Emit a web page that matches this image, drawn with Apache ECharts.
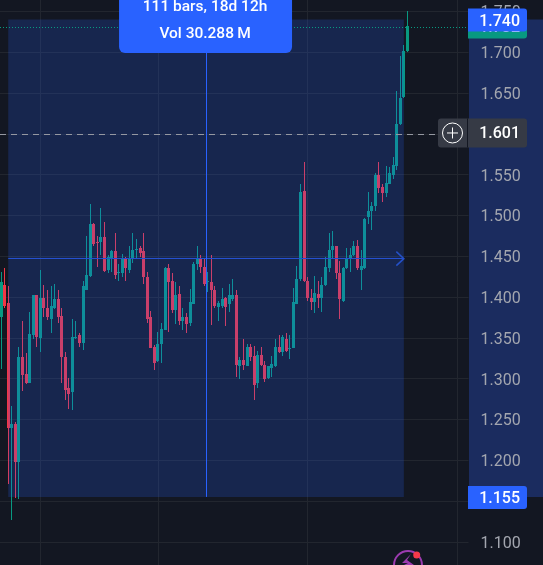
<!DOCTYPE html>
<html>
<head>
<meta charset="utf-8">
<title>Candles with price range</title>
<script src="https://cdn.jsdelivr.net/npm/echarts@6/dist/echarts.min.js"></script>
<style>
  html, body { margin: 0; padding: 0; background: #131722; overflow: hidden; }
  #chart { width: 543px; height: 565px; }
</style>
</head>
<body>
<div id="chart"></div>
<script>
// Candle prices, oldest bar first.
const opens = [
  1.375,1.415,1.393,1.240,1.244,1.198,1.326,1.306,1.295,1.354,
  1.402,1.350,1.399,1.386,1.373,1.386,1.398,1.377,1.327,1.289,
  1.284,1.350,1.353,1.344,1.409,1.426,1.490,1.468,1.467,1.474,
  1.433,1.447,1.456,1.430,1.429,1.448,1.433,1.446,1.458,1.460,
  1.456,1.425,1.375,1.339,1.321,1.343,1.360,1.435,1.419,1.384,
  1.404,1.370,1.376,1.368,1.392,1.440,1.446,1.437,1.418,1.418,
  1.409,1.388,1.389,1.399,1.391,1.398,1.403,1.316,1.323,1.316,
  1.339,1.328,1.294,1.329,1.317,1.301,1.313,1.316,1.339,1.333,
  1.349,1.337,1.338,1.392,1.422,1.530,1.420,1.399,1.394,1.404,
  1.399,1.415,1.435,1.458,1.462,1.430,1.395,1.435,1.447,1.451,
  1.462,1.433,1.435,1.498,1.505,1.511,1.549,1.535,1.527,1.539,
  1.550,1.560,1.612,1.645,1.701
];
const closes = [
  1.418,1.389,1.240,1.244,1.198,1.326,1.305,1.294,1.355,1.402,
  1.351,1.399,1.386,1.375,1.389,1.398,1.375,1.326,1.286,1.281,
  1.351,1.351,1.344,1.413,1.427,1.490,1.465,1.467,1.474,1.432,
  1.449,1.456,1.427,1.431,1.447,1.435,1.447,1.458,1.459,1.454,
  1.425,1.373,1.338,1.319,1.343,1.361,1.436,1.418,1.384,1.403,
  1.370,1.376,1.367,1.394,1.441,1.446,1.437,1.416,1.419,1.408,
  1.389,1.393,1.398,1.388,1.402,1.403,1.317,1.323,1.317,1.339,
  1.326,1.292,1.329,1.317,1.300,1.315,1.318,1.339,1.333,1.351,
  1.334,1.338,1.394,1.422,1.529,1.419,1.399,1.394,1.405,1.399,
  1.415,1.437,1.458,1.462,1.430,1.397,1.436,1.446,1.452,1.463,
  1.435,1.438,1.496,1.505,1.511,1.549,1.534,1.527,1.540,1.552,
  1.562,1.612,1.644,1.701,1.732
];
const lows = [
  1.312,1.387,1.171,1.127,1.154,1.153,1.285,1.293,1.294,1.348,
  1.339,1.333,1.376,1.372,1.356,1.385,1.368,1.294,1.274,1.263,
  1.261,1.349,1.339,1.335,1.408,1.425,1.463,1.437,1.452,1.431,
  1.429,1.431,1.422,1.420,1.425,1.419,1.429,1.442,1.446,1.449,
  1.416,1.368,1.337,1.311,1.320,1.319,1.359,1.357,1.380,1.367,
  1.366,1.360,1.356,1.365,1.391,1.433,1.429,1.414,1.406,1.366,
  1.387,1.370,1.387,1.365,1.382,1.395,1.302,1.299,1.311,1.315,
  1.322,1.274,1.288,1.315,1.296,1.300,1.302,1.314,1.331,1.328,
  1.332,1.324,1.337,1.391,1.420,1.418,1.395,1.384,1.380,1.387,
  1.382,1.414,1.431,1.448,1.422,1.373,1.394,1.434,1.431,1.450,
  1.433,1.408,1.434,1.490,1.482,1.506,1.527,1.516,1.523,1.538,
  1.545,1.556,1.611,1.644,1.700
];
const highs = [
  1.431,1.435,1.414,1.267,1.247,1.339,1.370,1.331,1.382,1.403,
  1.403,1.433,1.415,1.409,1.414,1.416,1.409,1.387,1.333,1.301,
  1.373,1.370,1.356,1.419,1.475,1.514,1.491,1.475,1.509,1.492,
  1.452,1.458,1.479,1.441,1.453,1.449,1.463,1.478,1.471,1.463,
  1.478,1.431,1.383,1.341,1.357,1.368,1.437,1.440,1.429,1.418,
  1.413,1.387,1.380,1.410,1.443,1.463,1.452,1.446,1.431,1.452,
  1.414,1.395,1.411,1.400,1.416,1.422,1.408,1.327,1.349,1.343,
  1.343,1.340,1.334,1.339,1.321,1.316,1.328,1.349,1.354,1.354,
  1.356,1.354,1.411,1.438,1.538,1.566,1.425,1.410,1.426,1.419,
  1.425,1.449,1.479,1.481,1.463,1.444,1.437,1.460,1.460,1.469,
  1.470,1.457,1.497,1.529,1.517,1.552,1.566,1.538,1.560,1.559,
  1.571,1.652,1.695,1.709,1.750
];

// Range tool: first and last bar, and the prices it spans.
const rangeBars = [2, 113];
const rangePrices = [1.155, 1.740];
const rangeCaption = ['111 bars, 18d 12h', 'Vol 30.288\u2009M'];
const midPrice = 1.447;
const cursorPrice = 1.601;
const lastPrice = closes[closes.length - 1];
// Bars that start a new session on the time grid.
const sessionBars = [11, 44, 86, 128];
const priceTickStep = 0.05;

const UP = '#089981';
const DOWN = '#f23645';
const BLUE = '#2962ff';
const BG = '#131722';
const FONT = 'Roboto, "Liberation Sans", sans-serif';
const fmt = function (v) { return v.toFixed(3); };

const candles = opens.map(function (o, i) {
  return [i, o, closes[i], lows[i], highs[i]];
});
const midBar = (rangeBars[0] + rangeBars[1]) / 2;

// Crisp candle: 1px wick centred in a 3px body, both on whole pixels.
function renderCandle(params, api) {
  const bar = api.value(0);
  const open = api.value(1);
  const close = api.value(2);
  const cx = Math.floor(api.coord([bar, open])[0]);
  const yOpen = Math.round(api.coord([bar, open])[1]);
  const yClose = Math.round(api.coord([bar, close])[1]);
  const yLow = Math.round(api.coord([bar, api.value(3)])[1]);
  const yHigh = Math.round(api.coord([bar, api.value(4)])[1]);
  const top = Math.min(yOpen, yClose);
  const fill = close >= open ? UP : DOWN;
  return {
    type: 'group',
    children: [
      { type: 'rect', shape: { x: cx, y: yHigh, width: 1, height: Math.max(1, yLow - yHigh) }, style: { fill: fill } },
      { type: 'rect', shape: { x: cx - 1, y: top, width: 3, height: Math.max(1, Math.abs(yOpen - yClose)) }, style: { fill: fill } }
    ]
  };
}

const chart = echarts.init(document.getElementById('chart'), null, { renderer: 'canvas' });

chart.setOption({
  animation: false,
  backgroundColor: BG,
  grid: { left: 0, width: 468.5, top: -29.4, height: 612, outerBoundsMode: 'none', containLabel: false },
  xAxis: {
    type: 'value', min: -0.31, max: 131.14,
    axisLine: { show: false }, axisTick: { show: false },
    axisLabel: { show: false }, splitLine: { show: false }
  },
  yAxis: {
    type: 'value', position: 'right', min: 1.05, max: 1.8, interval: priceTickStep,
    axisLine: { show: false }, axisTick: { show: false },
    axisLabel: {
      margin: 12,
      formatter: function (v) { return '{tick|' + fmt(v) + '}'; },
      rich: { tick: { color: '#a3a6af', fontFamily: FONT, fontSize: 16, padding: [4, 0, 0, 0] } }
    },
    splitLine: { show: true, lineStyle: { color: '#22262f', width: 1 } }
  },
  series: [
    {
      // Session separators of the time grid, beneath the candles.
      type: 'line', data: [], z: 1, silent: true,
      markLine: {
        z: 1, silent: true, symbol: 'none', animation: false,
        label: { show: false },
        lineStyle: { color: '#22262f', width: 1, type: 'solid' },
        data: sessionBars.map(function (b) { return { xAxis: b }; })
      }
    },
    {
      type: 'custom',
      name: 'Price',
      data: candles,
      encode: { x: 0, y: [1, 2, 3, 4] },
      renderItem: renderCandle,
      clip: false,
      silent: true,
      z: 2,
      markArea: {
        z: 3, silent: true,
        itemStyle: { color: 'rgba(41,98,255,0.2)' },
        data: [[
          { xAxis: rangeBars[0], yAxis: rangePrices[1] },
          { xAxis: rangeBars[1], yAxis: rangePrices[0] }
        ]]
      }
    },
    {
      // Range tool guides and price lines, above the shaded range.
      type: 'line', data: [], z: 6, silent: true,
      markLine: {
        z: 6, silent: true, symbol: 'none', animation: false,
        label: { show: false },
        data: [
          [
            { xAxis: rangeBars[0], yAxis: midPrice, lineStyle: { color: '#2550d0', width: 1, type: 'solid' } },
            { xAxis: rangeBars[1], yAxis: midPrice }
          ],
          [
            { xAxis: midBar, yAxis: rangePrices[1], lineStyle: { color: BLUE, width: 1, type: 'solid' } },
            { xAxis: midBar, yAxis: rangePrices[0] }
          ],
          { yAxis: lastPrice, lineStyle: { color: UP, width: 1, type: [1, 2] } },
          { yAxis: cursorPrice, lineStyle: { color: '#9598a1', width: 1, type: [6, 5] } }
        ]
      }
    }
  ]
});

// Decorations placed from the axis scales once they exist.
const px = function (bar, price) { return chart.convertToPixel({ gridIndex: 0 }, [bar, price]); };
const yTop = px(0, rangePrices[1])[1];
const yBot = px(0, rangePrices[0])[1];
const yMid = px(0, midPrice)[1];
const yCur = px(0, cursorPrice)[1];
const yLast = px(0, lastPrice)[1];
const xEnd = px(rangeBars[1], 0)[0];
const xMid = px(midBar, 0)[0];

const axisTag = function (y, h, text, fill, z) {
  return {
    type: 'group', z: z,
    children: [
      { type: 'rect', z: z, shape: { x: 468, y: y - h / 2, width: 59, height: h, r: [0, 3, 3, 0] }, style: { fill: fill } },
      { type: 'text', z: z + 1, style: { x: 520, y: y + 1.5, text: text, fill: '#fff', font: '500 16px ' + FONT, textAlign: 'right', textVerticalAlign: 'middle' } }
    ]
  };
};

chart.setOption({
  graphic: [
    // Price scale band of the selected range
    { type: 'rect', z: -1, shape: { x: 469, y: yTop, width: 74, height: yBot - yTop }, style: { fill: '#1b2c5f' } },
    // Arrow head on the middle guide
    { type: 'polyline', z: 50, shape: { points: [[xEnd - 7.5, yMid - 7], [xEnd, yMid], [xEnd - 7.5, yMid + 7]] },
      style: { stroke: '#2450c8', lineWidth: 1.5, fill: null } },
    // Caption of the range tool
    { type: 'rect', z: 60, shape: { x: xMid - 87, y: -12, width: 173, height: 65, r: 6 }, style: { fill: BLUE } },
    { type: 'text', z: 61, style: { x: xMid - 1, y: 7.5, text: rangeCaption[0], fill: '#fff', font: '500 15.5px ' + FONT, textAlign: 'center', textVerticalAlign: 'middle' } },
    { type: 'text', z: 61, style: { x: xMid - 1, y: 34.5, text: rangeCaption[1], fill: '#fff', font: '500 15.5px ' + FONT, textAlign: 'center', textVerticalAlign: 'middle' } },
    // Price scale tags
    axisTag(yLast + 0.5, 24, fmt(lastPrice), UP, 62),
    axisTag(yTop + 0.5, 23, fmt(rangePrices[1]), BLUE, 65),
    axisTag(yBot + 0.5, 23, fmt(rangePrices[0]), BLUE, 65),
    // Cursor tag with the plus button
    { type: 'rect', z: 70, shape: { x: 438, y: yCur - 14.5, width: 89, height: 29, r: 3 }, style: { fill: '#363a45' } },
    { type: 'line', z: 71, shape: { x1: 467.5, y1: yCur - 14.5, x2: 467.5, y2: yCur + 14.5 }, style: { stroke: BG, lineWidth: 1 } },
    { type: 'circle', z: 71, shape: { cx: 452.5, cy: yCur, r: 10 }, style: { stroke: '#fff', lineWidth: 1, fill: null } },
    { type: 'line', z: 71, shape: { x1: 447, y1: yCur, x2: 458, y2: yCur }, style: { stroke: '#fff', lineWidth: 1 } },
    { type: 'line', z: 71, shape: { x1: 452.5, y1: yCur - 5.5, x2: 452.5, y2: yCur + 5.5 }, style: { stroke: '#fff', lineWidth: 1 } },
    { type: 'text', z: 71, style: { x: 520, y: yCur + 1.5, text: fmt(cursorPrice), fill: '#fff', font: '500 16px ' + FONT, textAlign: 'right', textVerticalAlign: 'middle' } },
    // Alert badge at the bottom edge
    { type: 'arc', z: 40, shape: { cx: 408, cy: 565, r: 14, startAngle: 0, endAngle: Math.PI * 2 }, style: { stroke: '#9c3bb0', lineWidth: 2, fill: null } },
    { type: 'polygon', z: 41, shape: { points: [[411, 554], [402, 563], [408, 563], [404, 565], [414, 565], [407, 560]] }, style: { fill: '#9c3bb0' } },
    { type: 'circle', z: 42, shape: { cx: 416.7, cy: 555, r: 3.5 }, style: { fill: '#f7394a' } }
  ]
});
</script>
</body>
</html>
